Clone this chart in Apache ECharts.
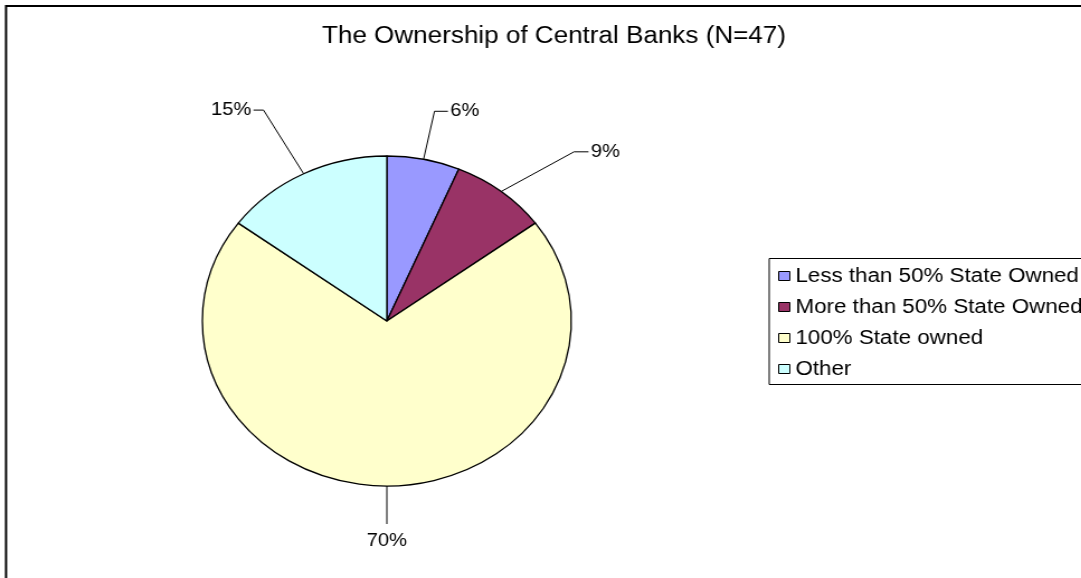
<!DOCTYPE html>
<html lang="en">
<head>
<meta charset="utf-8">
<title>The Ownership of Central Banks</title>
<script src="https://cdn.jsdelivr.net/npm/echarts@6/dist/echarts.min.js"></script>
<style>
    html, body { margin: 0; background: #fff; overflow: hidden; }
    /* the source picture is stretched sideways, so the chart is stretched the same way */
    #main { width: 967px; height: 578px; transform: scaleX(1.118); transform-origin: 0 0; }
</style>
</head>
<body>
<div id="main"></div>
<script>
var categories = ['Less than 50% State Owned', 'More than 50% State Owned', '100% State owned', 'Other'];
var banks = [3, 4, 33, 7];   // N = 47
var colors = ['#9999ff', '#993366', '#ffffcc', '#ccffff'];

var FONT = '"Liberation Sans", Arial, sans-serif';
var CX = 346, CY = 321, R = 165;

// leader lines: radial part, extra swing of the elbow (deg), horizontal tail
var leaderLen = [49, 73, 38, 73];
var leaderTurn = [0, 6.4, 0, -0.8];
var leaderTail = [12, 13, 0, 9];

function placeLabel(params) {
    var i = params.dataIndex;
    var p0 = params.labelLinePoints[0];
    var a = Math.atan2(p0[0] - CX, CY - p0[1]);
    var b = a + leaderTurn[i] * Math.PI / 180;
    var rr = R + leaderLen[i];
    var bx = CX + rr * Math.sin(b), by = CY - rr * Math.cos(b);
    if (Math.abs(Math.sin(a)) < 0.05) {
        // straight down, text sits under the line
        return { x: bx, y: by + 17, align: 'center', verticalAlign: 'middle',
                 labelLinePoints: [p0, [bx, by]] };
    }
    var side = Math.sin(a) > 0 ? 1 : -1;
    var tx = bx + side * leaderTail[i];
    return { x: tx + side * 2, y: by, align: side > 0 ? 'left' : 'right', verticalAlign: 'middle',
             labelLinePoints: [p0, [bx, by], [tx, by]] };
}

var myChart = echarts.init(document.getElementById('main'));
var option = {
    animation: false,
    backgroundColor: '#fff',
    color: colors,
    title: {
        text: 'The Ownership of Central Banks (N=47)',
        left: 288, top: 25, padding: 0,
        textStyle: { fontSize: 23.3, fontWeight: 'normal', color: '#000', fontFamily: FONT }
    },
    legend: {
        orient: 'vertical', left: 696, top: 266, padding: 0,
        itemWidth: 10, itemHeight: 9, itemGap: 11, icon: 'rect',
        selectedMode: false,
        itemStyle: { borderColor: '#000', borderWidth: 1 },
        textStyle: { fontSize: 20, lineHeight: 20, color: '#000', fontFamily: FONT },
        data: categories
    },
    graphic: [
        { type: 'rect', shape: { x: 5.4, y: 6, width: 1000, height: 600 },
          style: { fill: 'none', stroke: '#000', lineWidth: 2 }, silent: true },
        { type: 'rect', shape: { x: 688, y: 258.5, width: 400, height: 126 },
          style: { fill: 'none', stroke: '#000', lineWidth: 1 }, silent: true }
    ],
    series: [{
        type: 'pie',
        center: [CX, CY],
        radius: R,
        startAngle: 90,
        percentPrecision: 0,
        avoidLabelOverlap: false,
        silent: true,
        emphasis: { disabled: true },
        itemStyle: { borderColor: '#000', borderWidth: 1.3 },
        label: { show: true, formatter: '{d}%', fontSize: 18, color: '#000', fontFamily: FONT },
        labelLine: { show: true, length: 20, length2: 10, lineStyle: { color: '#000', width: 1 } },
        labelLayout: placeLabel,
        data: categories.map(function (c, i) { return { name: c, value: banks[i] }; })
    }]
};
myChart.setOption(option);
</script>
</body>
</html>
